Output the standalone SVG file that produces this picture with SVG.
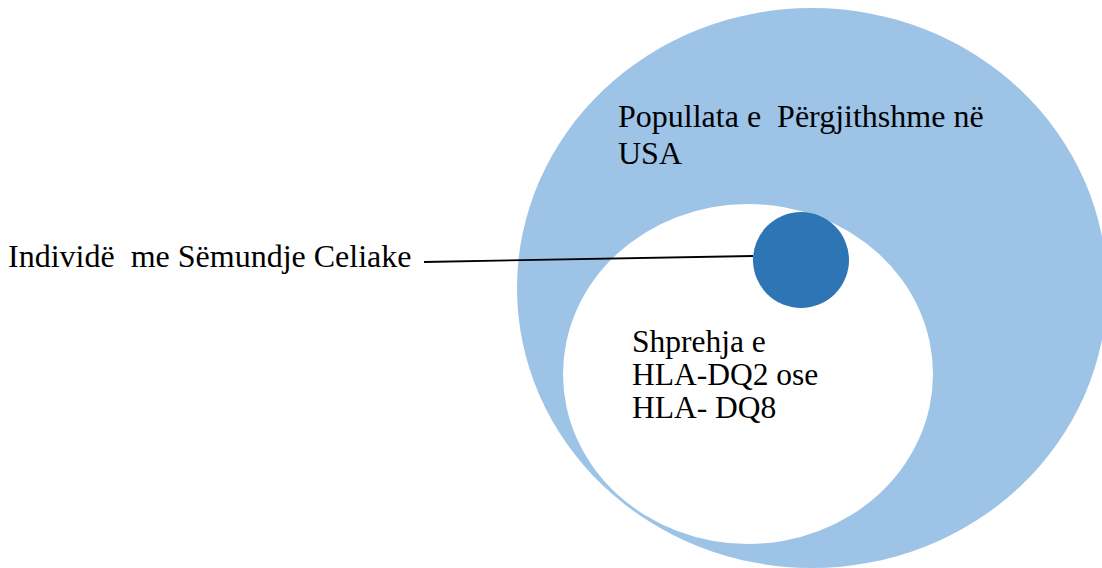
<svg xmlns="http://www.w3.org/2000/svg" width="1102" height="568" viewBox="0 0 1102 568">
<style>
text { font-family: "Liberation Serif", "Times New Roman", serif; font-size: 32px; fill: #000; white-space: pre; }
.inner { font-size: 31.5px; }
.conn { stroke: #000; stroke-width: 1.8; fill: none; }
</style>
<rect width="1102" height="568" fill="#fff"/>
<g id="population">
<ellipse cx="812" cy="288" rx="295" ry="280" fill="#9DC3E6"/>
<text x="618" y="127" xml:space="preserve">Popullata e  Përgjithshme në</text>
<text x="618" y="164">USA</text>
</g>
<g id="hla">
<ellipse cx="748" cy="374" rx="185" ry="170" fill="#fff"/>
<text class="inner" x="632" y="352">Shprehja e</text>
<text class="inner" x="632" y="385">HLA-DQ2 ose</text>
<text class="inner" x="632" y="418">HLA- DQ8</text>
</g>
<g id="celiac">
<circle cx="801" cy="260" r="48" fill="#2E75B6"/>
</g>
<g id="label">
<text x="8" y="267" xml:space="preserve">Individë  me Sëmundje Celiake</text>
</g>
<g id="connectors">
<line class="conn" x1="424" y1="262" x2="753" y2="256"/>
</g>
</svg>
